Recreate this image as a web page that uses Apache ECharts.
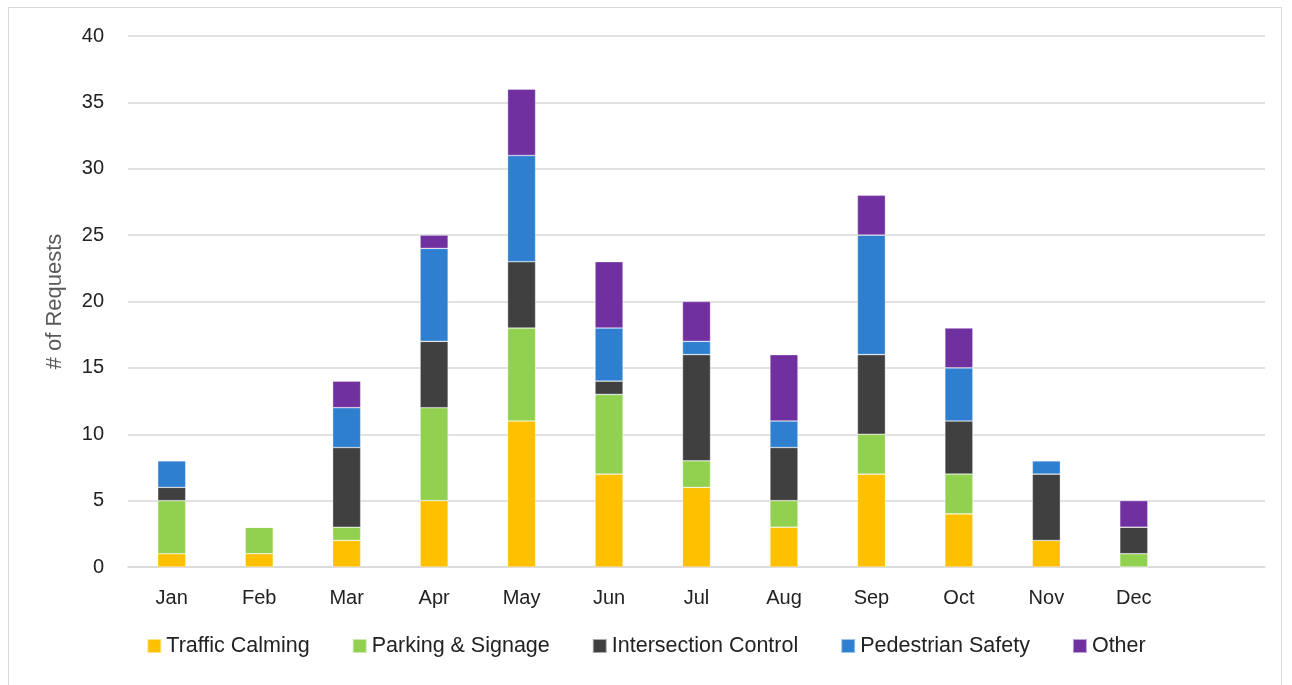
<!DOCTYPE html>
<html>
<head>
<meta charset="utf-8">
<script src="https://cdn.jsdelivr.net/npm/echarts@6/dist/echarts.min.js"></script>
<style>
html,body{margin:0;padding:0;background:#fff;}
#frame{position:absolute;left:8px;top:7px;width:1274px;height:700px;border:1px solid #d9d9d9;box-sizing:border-box;}
#chart{position:absolute;left:0;top:0;width:1292px;height:685px;}
</style>
</head>
<body>
<div id="frame"></div>
<div id="chart"></div>
<script>
const months = ['Jan','Feb','Mar','Apr','May','Jun','Jul','Aug','Sep','Oct','Nov','Dec',''];
const trafficCalming = [1,1,2,5,11,7,6,3,7,4,2,0,null];
const parkingSignage = [4,2,1,7,7,6,2,2,3,3,0,1,null];
const intersectionControl = [1,0,6,5,5,1,8,4,6,4,5,2,null];
const pedestrianSafety = [2,0,3,7,8,4,1,2,9,4,1,0,null];
const other = [0,0,2,1,5,5,3,5,3,3,0,2,null];
const yTicks = {min:0, max:40, interval:5};

const font = 'Liberation Sans, Arial, sans-serif';
function s(name, data, color){
  return {name, type:'bar', stack:'total', data, barWidth:28,
    itemStyle:{color, borderColor:'rgba(255,255,255,0.55)', borderWidth:0.6}};
}
const chart = echarts.init(document.getElementById('chart'));
chart.setOption({
  animation:false,
  grid:{left:128, right:27, top:36, bottom:118, containLabel:false},
  legend:{bottom:23, left:'center', itemWidth:14, itemHeight:14, itemGap:42,
    icon:'rect', textStyle:{fontFamily:font, fontSize:21.5, color:'#222'},
    data:['Traffic Calming','Parking & Signage','Intersection Control','Pedestrian Safety','Other']},
  xAxis:{type:'category', data:months,
    axisLine:{lineStyle:{color:'#d9d9d9', width:1.5}}, axisTick:{show:false},
    axisLabel:{fontFamily:font, fontSize:20, color:'#222', margin:21}},
  yAxis:{type:'value', min:yTicks.min, max:yTicks.max, interval:yTicks.interval,
    name:'# of Requests', nameLocation:'middle', nameGap:62,
    nameTextStyle:{fontFamily:font, fontSize:22, color:'#595959'},
    axisLine:{show:false}, axisTick:{show:false},
    splitLine:{lineStyle:{color:'#d9d9d9', width:1.5}},
    axisLabel:{fontFamily:font, fontSize:20, color:'#222', margin:24}},
  series:[
    s('Traffic Calming', trafficCalming, '#FFC000'),
    s('Parking & Signage', parkingSignage, '#92D050'),
    s('Intersection Control', intersectionControl, '#404040'),
    s('Pedestrian Safety', pedestrianSafety, '#2E7FD0'),
    s('Other', other, '#7030A0')
  ]
});
</script>
</body>
</html>
